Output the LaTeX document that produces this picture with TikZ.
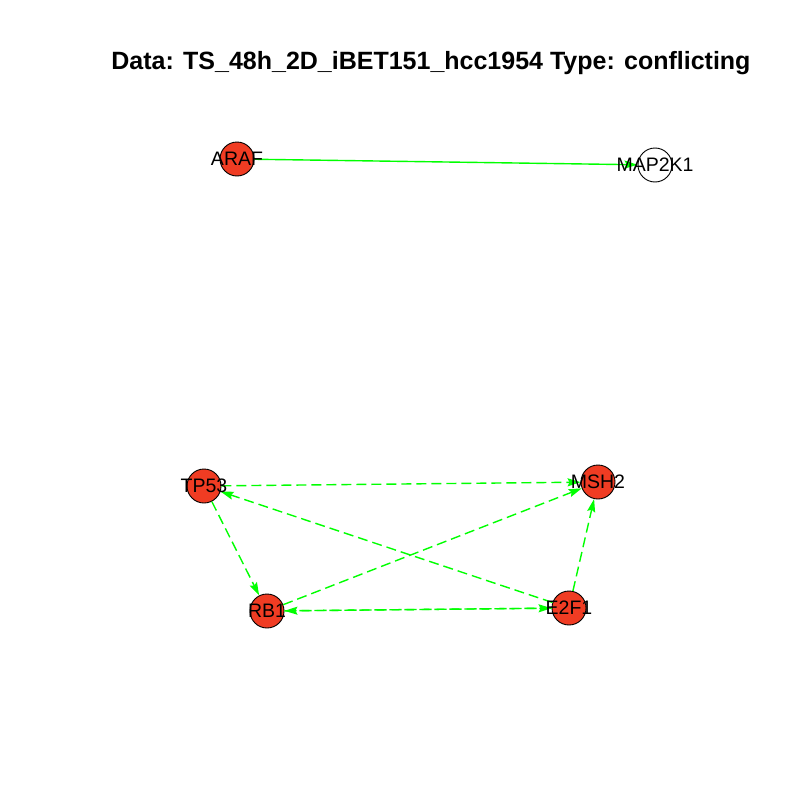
\documentclass[tikz,border=0pt]{standalone}
\usepackage{fontspec}
\setmainfont{Liberation Sans}
\usetikzlibrary{arrows.meta}
\definecolor{nodered}{RGB}{240,60,35}
\definecolor{edgegreen}{RGB}{0,255,0}
\begin{document}
\begin{tikzpicture}[x=1pt,y=-1pt,
  gene/.style={circle,draw=black,line width=0.9pt,fill=nodered,minimum size=34pt,inner sep=0pt},
  genew/.style={gene,fill=white},
  lbl/.style={font=\fontsize{19.5}{20}\selectfont,text=black},
  link/.style={draw=edgegreen,line width=1.4pt,-{Stealth[length=13pt,width=8pt,inset=2pt]}},
  dlink/.style={link,dash pattern=on 10pt off 5pt}]
\useasboundingbox (0,0) rectangle (800,800);
\fill[white] (0,0) rectangle (800,800);
\node[font=\bfseries\fontsize{25}{25}\selectfont] (title) at (431,63) {Data: TS\_48h\_2D\_iBET151\_hcc1954 Type: conflicting};

\node[gene] (ARAF) at (237,159) {};
\node[genew] (MAP2K1) at (655,165) {};
\node[gene] (TP53) at (204,486) {};
\node[gene] (MSH2) at (598,482) {};
\node[gene] (RB1) at (267,611) {};
\node[gene] (E2F1) at (569,608) {};

\draw[link] (ARAF) -- (MAP2K1);
\draw[dlink] (TP53) -- (MSH2);
\draw[dlink] (E2F1) -- (TP53);
\draw[dlink] (TP53) -- (RB1);
\draw[dlink] (RB1) -- (MSH2);
\draw[dlink] (RB1) -- (E2F1);
\draw[dlink] (E2F1) -- (RB1);
\draw[dlink] (E2F1) -- (MSH2);

\node[lbl] at (ARAF) {ARAF};
\node[lbl] at (MAP2K1) {MAP2K1};
\node[lbl] at (TP53) {TP53};
\node[lbl] at (MSH2) {MSH2};
\node[lbl] at (RB1) {RB1};
\node[lbl] at (E2F1) {E2F1};
\end{tikzpicture}
\end{document}
